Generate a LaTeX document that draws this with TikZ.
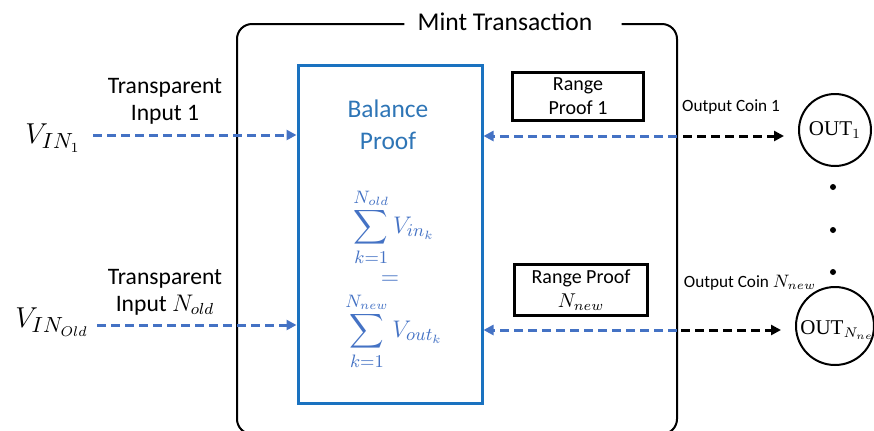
\documentclass[tikz,border=0pt]{standalone}
\usepackage{amsmath}
\usepackage{fontspec}
\setmainfont{Carlito}
\newfontfamily\outfont{Liberation Serif}
\usepackage{tikz}
\usetikzlibrary{arrows.meta}
\usepackage{xcolor}
\definecolor{boxblue}{RGB}{26,114,192}
\definecolor{textblue}{RGB}{46,117,182}
\definecolor{mathblue}{RGB}{68,114,196}

\begin{document}
\begin{tikzpicture}[x=0.5pt,y=-0.5pt,
  blueflow/.style={mathblue, line width=1.5pt, dash pattern=on 4.5pt off 2.5pt, -{Triangle[length=5pt,width=5pt]}},
  blackflow/.style={black, line width=1.5pt, dash pattern=on 4.5pt off 2.5pt, -{Triangle[length=5pt,width=5pt]}},
  rangebox/.style={draw, line width=1.5pt, align=center, font=\fontsize{10}{12}\selectfont, inner sep=0pt},
  coin/.style={draw, circle, line width=1pt, inner sep=0pt},
  sumtxt/.style={mathblue, inner sep=0pt, font=\fontsize{12.5}{14}\selectfont},
  lbl/.style={align=center, font=\fontsize{11.8}{13.5}\selectfont}]
\useasboundingbox (0,0) rectangle (874,430);
\clip (0,0) rectangle (874,430);

% Mint transaction frame
\node[inner sep=0pt, font=\fontsize{12.8}{15}\selectfont] (title) at (505,22) {Mint Transaction};
\draw[line width=1pt, rounded corners=7.5pt] ([xshift=-6.5pt]title.west |- 0,24) -- (237,24) -- (237,434)
  -- (677,434) -- (677,24) -- ([xshift=14.5pt]title.east |- 0,24);

% Balance proof
\node[draw=boxblue, line width=1.5pt, minimum width=92pt, minimum height=169pt] (bal) at (390,234) {};
\node[align=center, textblue, font=\fontsize{12.7}{16}\selectfont] (baltitle) at (388,125) {Balance\\Proof};
\node[sumtxt] (sumin) at (394,227) {$\displaystyle\sum_{k=1}^{N_{old}} V_{in_k}$};
\node[sumtxt] (eq) at (390,280) {$=$};
\node[sumtxt] (sumout) at (394,331) {$\displaystyle\sum_{k=1}^{N_{new}} V_{out_k}$};

% Inputs
\node[font=\fontsize{15}{18}\selectfont] (vin1) at (53,138) {$V_{IN_1}$};
\node[font=\fontsize{15}{18}\selectfont] (vinN) at (52,322) {$V_{IN_{Old}}$};
\node[lbl] (tin1) at (165,101) {Transparent\\Input 1};
\node[lbl] (tinN) at (165,292) {Transparent\\Input $N_{old}$};
\draw[blueflow] (93,135) coordinate (a1) -- (a1 -| bal.west);
\draw[blueflow] (97,325) coordinate (aN) -- (aN -| bal.west);

% Range proofs
\node[rangebox, minimum width=65.5pt, minimum height=24pt] (rp1) at (578,96) {Range\\Proof 1};
\node[rangebox, minimum width=66.5pt, minimum height=25.5pt] (rpN) at (581,290) {Range Proof\\$N_{new}$};

% Outputs
\node[coin, minimum size=36pt, font=\fontsize{10.5}{12}\selectfont] (out1) at (835,130) {{\outfont OUT}$_1$};
\node[coin, minimum size=39pt] (outN) at (835,326) {};
\node[anchor=west, inner sep=0pt, font=\fontsize{10.5}{12}\selectfont] (outNtxt) at (800,330) {{\outfont OUT}$_{N_{new}}$};
\node[font=\fontsize{8.6}{10}\selectfont] (oc1) at (731,107) {Output Coin 1};
\node[font=\fontsize{8.6}{10}\selectfont] (ocN) at (750,283) {Output Coin $N_{new}$};
\coordinate (r1) at (677,136);
\coordinate (rN) at (677,330);
\draw[blueflow] (r1) -- (r1 -| bal.east);
\draw[blueflow] (rN) -- (rN -| bal.east);
\draw[blackflow, shorten >=7pt] ([xshift=3pt]r1) -- (r1 -| out1.west);
\draw[blackflow, shorten >=7pt] ([xshift=2pt]rN) -- (rN -| outN.west);

% dots
\foreach \y [count=\i] in {187,230,272}
  \fill (833,\y) circle (1.5pt) coordinate (d\i);
\end{tikzpicture}
\end{document}
